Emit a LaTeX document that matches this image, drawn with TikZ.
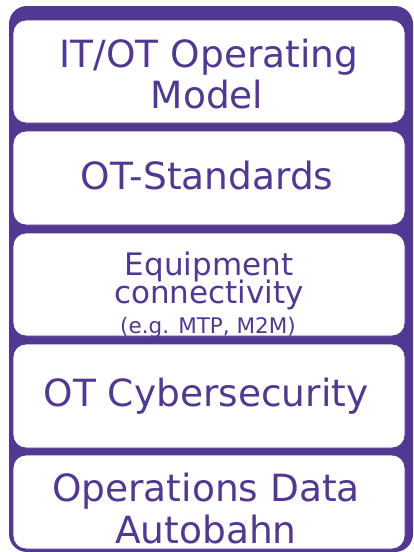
\documentclass[tikz,border=0pt]{standalone}
\usepackage{fontspec}
\setmainfont{DejaVu Sans}
\definecolor{otpurple}{RGB}{81,56,145}
\tikzset{
  layerbox/.style={draw=otpurple, line width=0.8pt, fill=white, rounded corners=13pt,
    inner sep=0pt, minimum width=392pt},
  bigtext/.style={text=otpurple, font=\fontsize{37.5}{40}\selectfont, anchor=base, inner sep=0pt},
  midtext/.style={text=otpurple, font=\fontsize{31}{33}\selectfont, anchor=base, inner sep=0pt},
  smalltext/.style={text=otpurple, font=\fontsize{21.5}{24}\selectfont, anchor=base, inner sep=0pt}
}
\begin{document}
\begin{tikzpicture}[x=1pt,y=-1pt]
  \useasboundingbox (0,0) rectangle (413,552);
  % outer frame
  \fill[otpurple, rounded corners=18pt] (9,6) rectangle (413,552);
  % layers
  \node[layerbox, minimum height=103pt] (model) at (209,71.5) {};
  \node[layerbox, minimum height=94pt] (standards) at (209,178) {};
  \node[layerbox, minimum height=103pt] (connect) at (209,284.5) {};
  \node[layerbox, minimum height=104pt] (security) at (209,396) {};
  \node[layerbox, minimum height=94pt] (autobahn) at (209,502) {};
  % texts
  \node[bigtext] (modeltxta) at (209,67.7) {IT/OT Operating};
  \node[bigtext] (modeltxtb) at (207,108.3) {Model};
  \node[bigtext] (standardstxt) at (207,189.3) {OT-Standards};
  \node[midtext] (connecttxta) at (209,275) {Equipment};
  \node[midtext] (connecttxtb) at (209,303.3) {connectivity};
  \node[smalltext] (connecttxtc) at (208,333.5) {(e.g. MTP, M2M)};
  \node[bigtext] (securitytxt) at (206,406.7) {OT Cybersecurity};
  \node[bigtext] (autobahntxta) at (206,501.7) {Operations Data};
  \node[bigtext] (autobahntxtb) at (206,543.5) {Autobahn};
\end{tikzpicture}
\end{document}
